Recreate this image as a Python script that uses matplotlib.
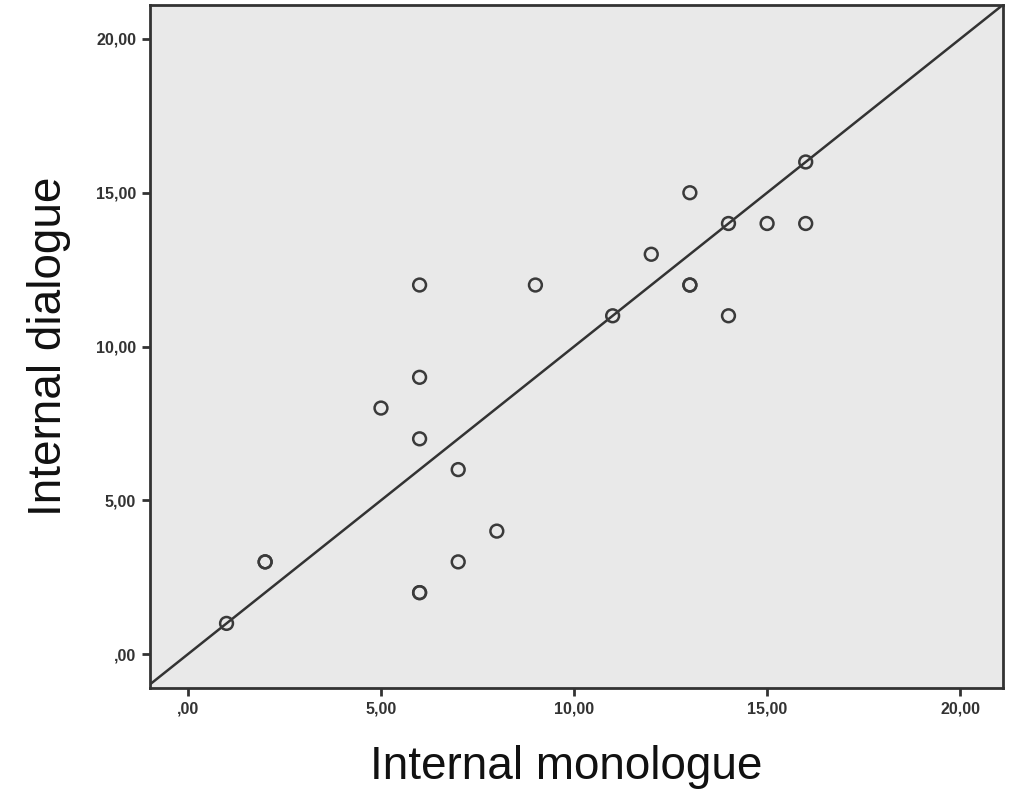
import numpy as np
import matplotlib.pyplot as plt
from matplotlib.ticker import FuncFormatter

# internal monologue (x) vs internal dialogue (y), duplicates kept
monologue = [1, 2, 2, 5, 6, 6, 6, 6, 6, 7, 7, 8, 9, 11, 12, 13, 13, 13, 14, 14, 15, 16, 16]
dialogue = [1, 3, 3, 8, 12, 9, 7, 2, 2, 6, 3, 4, 12, 11, 13, 15, 12, 12, 14, 11, 14, 16, 14]
ticks = [0, 5, 10, 15, 20]

plt.rcParams['font.family'] = ['Liberation Sans', 'DejaVu Sans']

fig = plt.figure(figsize=(10.21, 7.95), dpi=100)
ax = fig.add_axes([0.147, 0.1346, 0.835, 0.859])
ax.set_facecolor('#e9e9e9')

ax.set_xlim(-0.98, 21.1)
ax.set_ylim(-1.1, 21.1)

# reference line y = x
ax.plot([-2, 22], [-2, 22], color='#333333', lw=1.8, zorder=2)

ax.scatter(monologue, dialogue, s=85, facecolors='none', edgecolors='#3a3a3a',
           linewidths=1.8, zorder=3)

def spss_fmt(v, pos):
    s = f"{v:.2f}".replace('.', ',')
    if s.startswith('0,'):
        s = s[1:]
    return s

ax.set_xticks(ticks)
ax.set_yticks(ticks)
ax.xaxis.set_major_formatter(FuncFormatter(spss_fmt))
ax.yaxis.set_major_formatter(FuncFormatter(spss_fmt))
ax.tick_params(direction='out', length=6, width=2, color='#333333',
               labelsize=11.5, labelcolor='#333333', pad=4)
for lab in ax.get_xticklabels() + ax.get_yticklabels():
    lab.set_fontweight('bold')

for sp in ax.spines.values():
    sp.set_linewidth(2)
    sp.set_color('#333333')

ax.set_xlabel('Internal monologue', fontsize=33, labelpad=20, color='#111111', x=0.488)
ax.set_ylabel('Internal dialogue', fontsize=33, labelpad=18, color='#111111')

fig.savefig('out.png', dpi=100)
